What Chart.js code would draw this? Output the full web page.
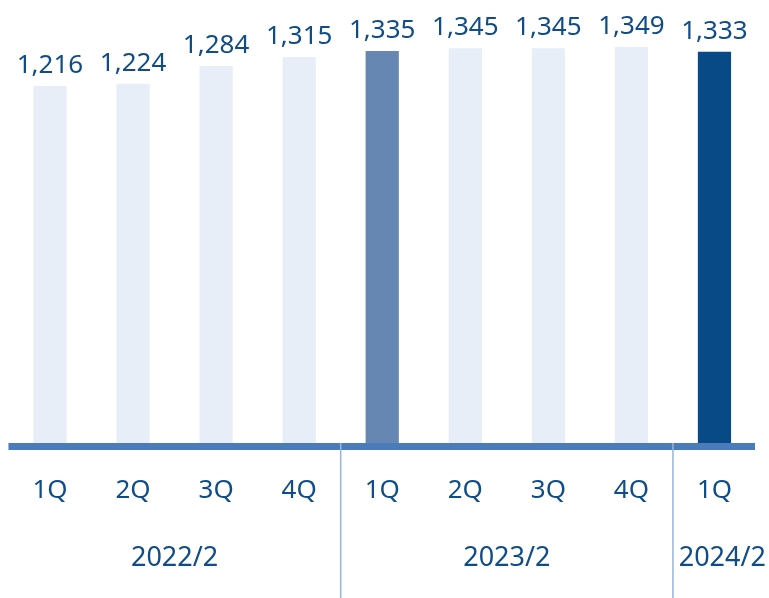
<!DOCTYPE html>
<html>
<head>
<meta charset="utf-8">
<script src="https://cdn.jsdelivr.net/npm/chart.js@4.4.1/dist/chart.umd.min.js"></script>
<style>
  html, body { margin: 0; padding: 0; background: #ffffff; }
  #wrap { width: 769px; height: 598px; position: relative; }
</style>
</head>
<body>
<div id="wrap"><canvas id="barChart"></canvas></div>
<script>
// data
const quarters = ['1Q', '2Q', '3Q', '4Q', '1Q', '2Q', '3Q', '4Q', '1Q'];
const values = [1216, 1224, 1284, 1315, 1335, 1345, 1345, 1349, 1333];
const groupLabels = ['2022/2', '2023/2', '2024/2'];
const groupSizes = [4, 4, 1];

const textBlue = '#0f4c88';
const barColors = values.map(function (v, i) {
    if (i === 4) return '#6587b1'; // 1Q last year
    if (i === 8) return '#074a85'; // current quarter
    return '#e7eef7';
});

// value labels, thick base line, group separators and group names
const decorPlugin = {
    id: 'decor',
    afterDatasetsDraw(chart) {
        const ctx = chart.ctx;
        const area = chart.chartArea;
        const meta = chart.getDatasetMeta(0);

        ctx.save();
        ctx.fillStyle = textBlue;
        ctx.font = '26px "Noto Sans"';
        ctx.textAlign = 'center';
        ctx.textBaseline = 'alphabetic';
        meta.data.forEach(function (bar, i) {
            ctx.fillText(values[i].toLocaleString('en-US'), bar.x, bar.y - 13);
        });

        // base line
        ctx.fillStyle = '#4a7cba';
        ctx.fillRect(area.left, area.bottom, area.right - area.left - 1, 7);

        // separators between years
        const step = (area.right - area.left) / quarters.length;
        ctx.strokeStyle = '#97b4db';
        ctx.lineWidth = 1.5;
        let idx = 0;
        groupSizes.forEach(function (n, g) {
            const left = area.left + idx * step;
            const right = area.left + (idx + n) * step;
            if (g > 0) {
                ctx.beginPath();
                ctx.moveTo(left, area.bottom);
                ctx.lineTo(left, chart.height);
                ctx.stroke();
            }
            ctx.fillStyle = textBlue;
            ctx.font = '27px "Noto Sans"';
            const w = ctx.measureText(groupLabels[g]).width;
            let cx = (left + right) / 2;
            // keep narrow group label clear of its separator
            if (g > 0 && cx - w / 2 < left + 6) cx = left + 6 + w / 2;
            if (cx + w / 2 > chart.width - 3) cx = chart.width - 3 - w / 2;
            ctx.textBaseline = 'middle';
            ctx.fillText(groupLabels[g], cx, 558);
            idx += n;
        });
        ctx.restore();
    }
};

const ctx = document.getElementById('barChart').getContext('2d');
const chart = new Chart(ctx, {
    type: 'bar',
    data: {
        labels: quarters,
        datasets: [{
            data: values,
            backgroundColor: barColors,
            barPercentage: 0.4,
            categoryPercentage: 1.0,
            borderWidth: 0
        }]
    },
    options: {
        responsive: true,
        maintainAspectRatio: false,
        animation: false,
        layout: { padding: { left: 7, right: 13, top: 0, bottom: 0 } },
        plugins: {
            legend: { display: false },
            tooltip: { enabled: false }
        },
        scales: {
            x: {
                grid: { display: false, drawTicks: false },
                border: { display: false },
                ticks: {
                    color: textBlue,
                    font: { family: 'Noto Sans', size: 26 },
                    padding: 32,
                    maxRotation: 0,
                    autoSkip: false
                },
                afterFit: function (scale) { scale.height = 155; }
            },
            y: {
                display: false,
                min: 0,
                max: 1509
            }
        }
    },
    plugins: [decorPlugin]
});
</script>
</body>
</html>
